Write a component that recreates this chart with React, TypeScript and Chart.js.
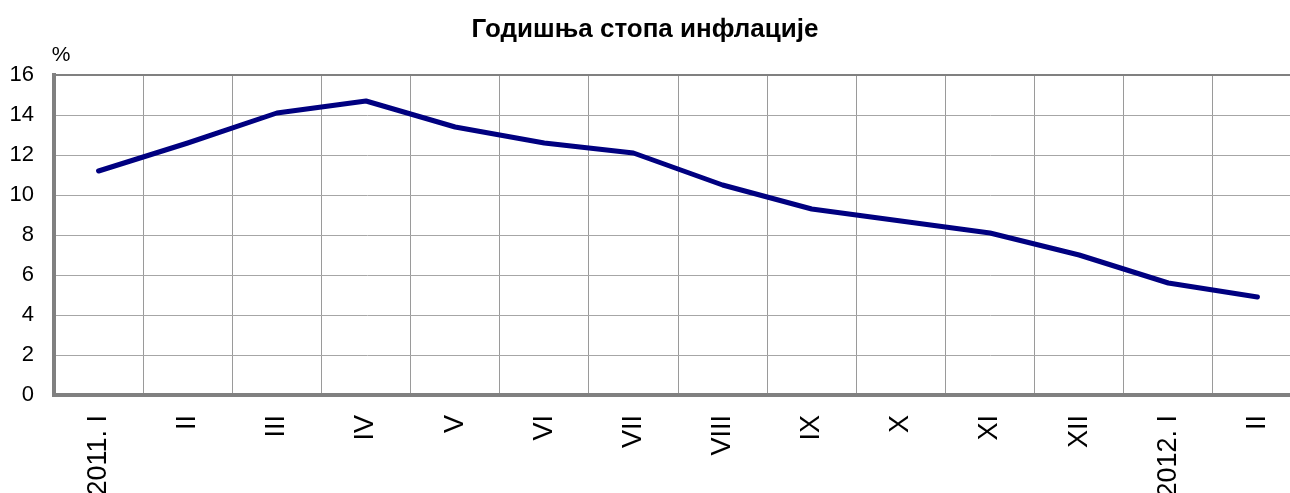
import React, { useEffect, useRef } from "react";
import { Chart, registerables } from "chart.js";

Chart.register(...registerables);

const TITLE = "Годишња стопа инфлације";
const UNIT = "%";
const categories = ["2011. I", "II", "III", "IV", "V", "VI", "VII", "VIII", "IX", "X", "XI", "XII", "2012. I", "II"];
const inflation = [11.2, 12.6, 14.1, 14.7, 13.4, 12.6, 12.1, 10.5, 9.3, 8.7, 8.1, 7.0, 5.6, 4.9];
const yMin = 0;
const yMax = 16;
const yStep = 2;

const FONT = "'Liberation Sans', Arial, sans-serif";
const VIEW_W = 1290;

const textPlugin = {
  id: "textLabels",
  afterDraw(chart: any) {
    const { ctx, chartArea } = chart;
    ctx.save();
    ctx.fillStyle = "#000";
    ctx.textAlign = "center";
    ctx.textBaseline = "middle";
    ctx.font = `bold 26px ${FONT}`;
    ctx.fillText(TITLE, VIEW_W / 2, 30);
    ctx.font = `21px ${FONT}`;
    ctx.fillText(UNIT, chartArea.left + 7, chartArea.top - 20);
    ctx.restore();
  },
};

export default function App() {
  const ref = useRef<HTMLCanvasElement | null>(null);

  useEffect(() => {
    const canvas = ref.current;
    if (!canvas) return;
    const chart = new Chart(canvas, {
      type: "line",
      data: {
        labels: categories,
        datasets: [
          {
            data: inflation,
            borderColor: "#000080",
            backgroundColor: "#000080",
            borderWidth: 5,
            pointRadius: 0,
            tension: 0,
            borderJoinStyle: "round",
            borderCapStyle: "round",
          },
        ],
      },
      plugins: [textPlugin],
      options: {
        responsive: false,
        animation: false,
        devicePixelRatio: 1,
        layout: { padding: { left: 0, right: 18, top: 75, bottom: 0 } },
        plugins: {
          legend: { display: false },
          tooltip: { enabled: false },
          title: { display: false },
        },
        scales: {
          x: {
            offset: true,
            grid: {
              offset: true,
              color: "#9a9a9a",
              lineWidth: 1,
              drawTicks: false,
            },
            border: { display: true, color: "#808080", width: 4 },
            ticks: {
              autoSkip: false,
              minRotation: 90,
              maxRotation: 90,
              padding: 20,
              color: "#000",
              font: { family: FONT, size: 27 },
            },
            afterFit(scale: any) {
              scale.height = 98;
            },
          },
          y: {
            min: yMin,
            max: yMax,
            grid: {
              color: (c: any) => (c.tick && c.tick.value === yMax ? "#808080" : "#a6a6a6"),
              lineWidth: (c: any) => (c.tick && c.tick.value === yMax ? 2 : 1),
              drawTicks: false,
            },
            border: { display: true, color: "#808080", width: 4 },
            ticks: {
              stepSize: yStep,
              padding: 20,
              color: "#000",
              font: { family: FONT, size: 22 },
            },
            afterFit(scale: any) {
              scale.width = 54;
            },
          },
        },
      },
    });
    return () => chart.destroy();
  }, []);

  return (
    <div style={{ position: "absolute", left: 0, top: 0, width: VIEW_W, height: 493, overflow: "hidden", background: "#fff" }}>
      <canvas ref={ref} width={1320} height={493} style={{ width: 1320, height: 493, display: "block" }} />
    </div>
  );
}
